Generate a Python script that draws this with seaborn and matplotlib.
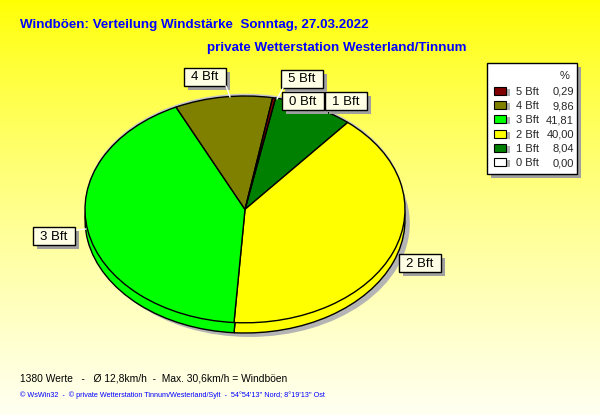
import numpy as np
import seaborn as sns
import matplotlib.pyplot as plt
from matplotlib.patches import Rectangle

# Werte aus der Grafik
labels = ["0 Bft", "1 Bft", "2 Bft", "3 Bft", "4 Bft", "5 Bft"]
percent = [0.00, 8.04, 40.00, 41.81, 9.86, 0.29]
colors = ["#FFFFFF", "#008000", "#FFFF00", "#00FF00", "#808000", "#800000"]

title = "Windböen: Verteilung Windstärke  Sonntag, 27.03.2022"
subtitle = "private Wetterstation Westerland/Tinnum"
info = "1380 Werte   -   Ø 12,8km/h  -  Max. 30,6km/h = Windböen"
footer = "© WsWin32  -  © private Wetterstation Tinnum/Westerland/Sylt  -  54°54'13'' Nord; 8°19'13'' Ost"

sns.set_style("white")
plt.rcParams["font.family"] = ["Liberation Sans", "DejaVu Sans"]

W, H = 600, 415
fig = plt.figure(figsize=(W / 100, H / 100), dpi=100)

# Hintergrund: Verlauf gelb -> hellgelb
bg = fig.add_axes([0, 0, 1, 1], zorder=0)
t = np.linspace(0, 1, 256)[:, None]
top = np.array([1.0, 1.0, 0.0])
bot = np.array([1.0, 1.0, 0.95])
grad = top + (bot - top) * (t ** 0.8)[:, :, None]
bg.imshow(np.repeat(grad, 4, axis=1), aspect="auto", extent=[0, W, H, 0])
bg.set_xlim(0, W)
bg.set_ylim(H, 0)
bg.axis("off")

# Torte (3D-Look durch zweite, nach unten versetzte Torte)
px_l, px_r, px_t, px_b = 85, 405, 96, 333
depth = 0.09
pie_ax = fig.add_axes([px_l / W, 1 - px_b / H, (px_r - px_l) / W, (px_b - px_t) / H], zorder=1)
start = 79
# Schatten
pie_ax.pie([1], colors=["#B4B4B4"], radius=1, center=(0.03, -depth - 0.035),
           wedgeprops=dict(linewidth=0))
pie_ax.pie([1], colors=["#C8C8C8"], radius=1, center=(0, 0.02),
           wedgeprops=dict(linewidth=0))
# Seite
pie_ax.pie(percent, colors=colors, radius=1, center=(0, -depth), startangle=start,
           counterclock=False, wedgeprops=dict(edgecolor="black", linewidth=1.0))
# Oberseite
pie_ax.pie(percent, colors=colors, radius=1, center=(0, 0), startangle=start,
           counterclock=False, wedgeprops=dict(edgecolor="black", linewidth=1.0))
pie_ax.set_aspect("auto")
pie_ax.set_xlim(-1, 1)
pie_ax.set_ylim(-1 - depth, 1)
pie_ax.axis("off")

# Overlay für Texte, Beschriftungen und Legende (Pixelkoordinaten)
ov = fig.add_axes([0, 0, 1, 1], zorder=2)
ov.set_xlim(0, W)
ov.set_ylim(H, 0)
ov.axis("off")
ov.patch.set_alpha(0)

ov.text(20, 25, title, color="#0000FF", fontsize=9.6, fontweight="bold", va="center", ha="left")
ov.text(207, 48, subtitle, color="#0000FF", fontsize=9.6, fontweight="bold", va="center", ha="left")
ov.text(20, 378, info, color="black", fontsize=7.4, va="center", ha="left")
ov.text(20, 395, footer, color="#0000FF", fontsize=5.2, va="center", ha="left")

# kurze weiße Hinweislinien
for x0, y0, x1, y1 in [(77, 230, 86, 229), (226, 86, 230, 97), (283, 88, 277, 99)]:
    ov.plot([x0, x1], [y0, y1], color="white", lw=1)

# Beschriftungskästen
box_pos = {"4 Bft": (205, 77), "5 Bft": (302, 79), "0 Bft": (303, 101),
           "1 Bft": (346, 101), "3 Bft": (54, 236), "2 Bft": (420, 263)}
box_w, box_h = 42, 18
for lab in labels:
    cx, cy = box_pos[lab]
    ov.add_patch(Rectangle((cx - box_w / 2 + 4, cy - box_h / 2 + 4), box_w, box_h,
                           facecolor="#A0A0A0", edgecolor="none"))
    ov.add_patch(Rectangle((cx - box_w / 2, cy - box_h / 2), box_w, box_h,
                           facecolor="#FFFFE6", edgecolor="black", linewidth=1))
    ov.text(cx, cy + 0.5, lab, fontsize=9.5, va="center", ha="center", color="black")

# Legende
lx, ly, lw, lh = 487, 63, 90, 111
ov.add_patch(Rectangle((lx + 4, ly + 4), lw, lh, facecolor="#A0A0A0", edgecolor="none"))
ov.add_patch(Rectangle((lx, ly), lw, lh, facecolor="white", edgecolor="black", linewidth=1))
ov.text(565, 76, "%", fontsize=8, va="center", ha="center")
for i, (lab, val, col) in enumerate(zip(labels[::-1], percent[::-1], colors[::-1])):
    y = 92 + i * 14.2
    ov.add_patch(Rectangle((498, y - 3), 12, 7, facecolor="#B0B0B0", edgecolor="none"))
    ov.add_patch(Rectangle((494, y - 5), 12, 8, facecolor=col, edgecolor="black", linewidth=0.8))
    ov.text(516, y, lab, fontsize=8, va="center", ha="left")
    ov.text(574, y, f"{val:.2f}".replace(".", ","), fontsize=8, va="center", ha="right")

fig.savefig("out.png", dpi=100)
